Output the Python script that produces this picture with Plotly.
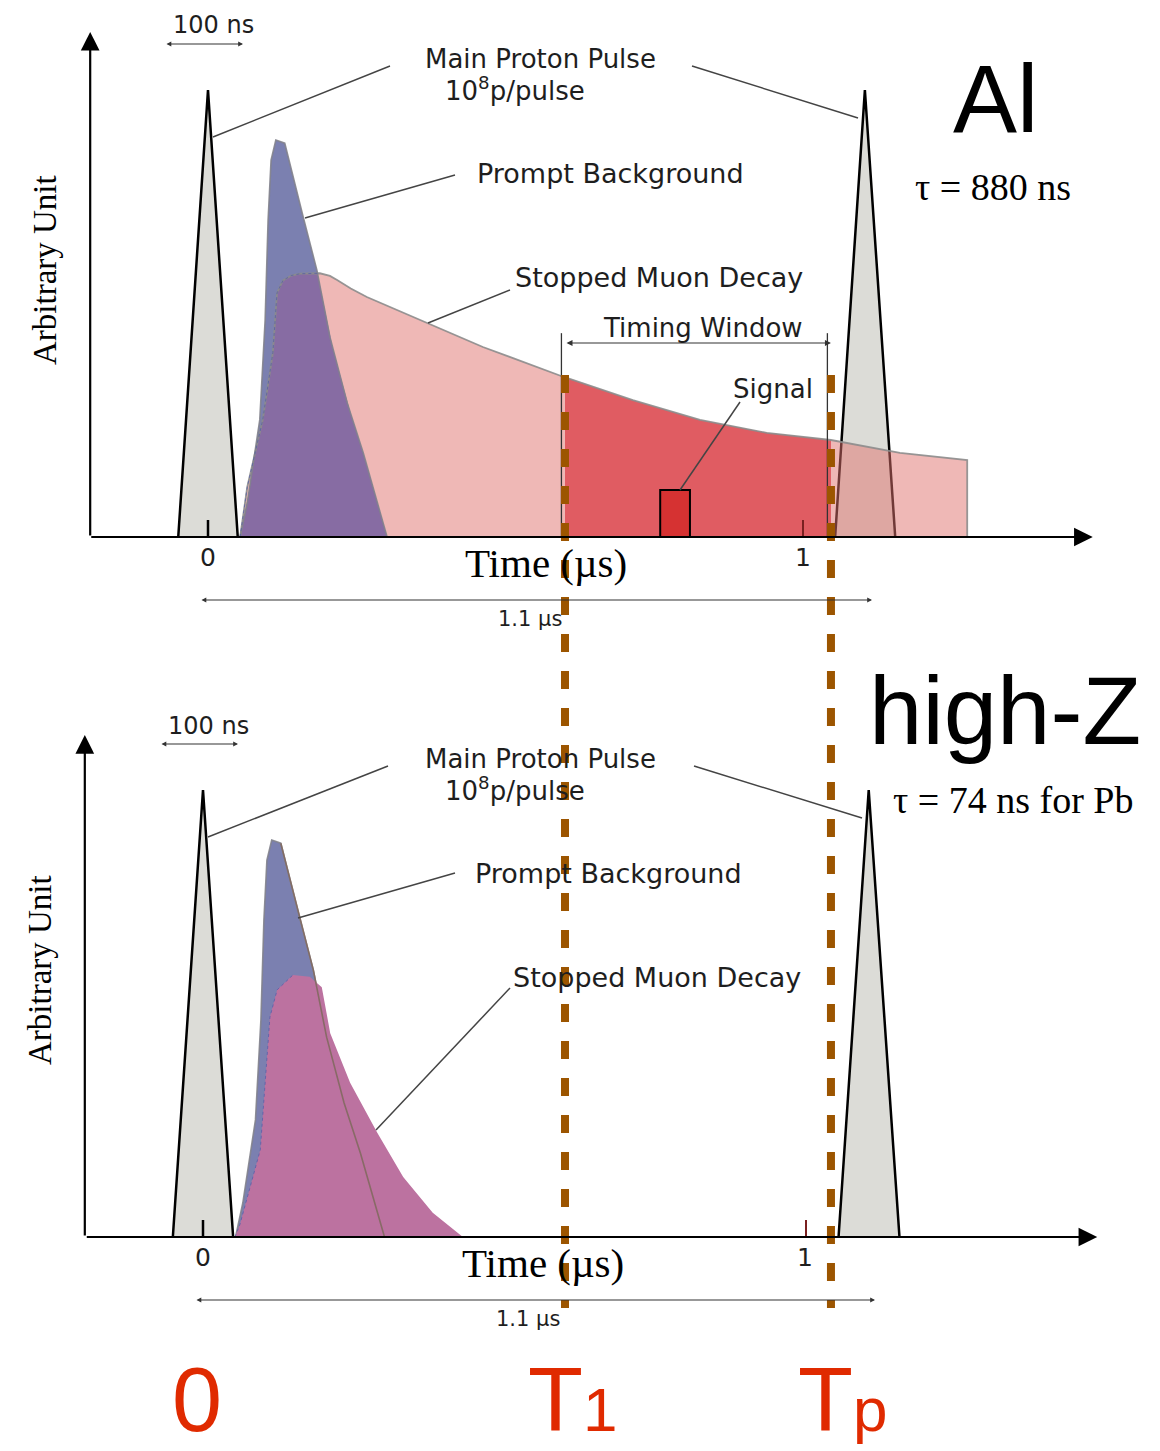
import numpy as np
import plotly.graph_objects as go

# ---------------- data (time in µs, height in arbitrary units) ----------------
pulse_left_t = [-0.050, 0.0, 0.050]
pulse_left_h = [0.0, 1.0, 0.0]
pulse_right_t = [1.054, 1.104, 1.155]
pulse_right_h = [0.0, 1.0, 0.0]

prompt_t = [0.054, 0.066, 0.087, 0.096, 0.101, 0.106, 0.114, 0.129, 0.160, 0.183, 0.205, 0.234, 0.261, 0.301]
prompt_h = [0.0, 0.076, 0.262, 0.485, 0.709, 0.843, 0.888, 0.881, 0.716, 0.597, 0.447, 0.300, 0.188, 0.0]

al_decay_t = [0.054, 0.066, 0.092, 0.109, 0.116, 0.126, 0.140, 0.155, 0.188, 0.205, 0.217, 0.240, 0.267,
              0.368, 0.462, 0.598, 0.714, 0.827, 0.939, 1.047, 1.163, 1.276]
al_decay_h = [0.0, 0.112, 0.262, 0.412, 0.546, 0.574, 0.585, 0.589, 0.590, 0.584, 0.575, 0.556, 0.537,
              0.479, 0.425, 0.358, 0.306, 0.262, 0.233, 0.217, 0.188, 0.172]

pb_decay_t = [0.053, 0.061, 0.095, 0.103, 0.111, 0.123, 0.149, 0.177, 0.197, 0.211, 0.244, 0.289, 0.332, 0.381, 0.431]
pb_decay_h = [0.0, 0.027, 0.195, 0.345, 0.492, 0.553, 0.586, 0.582, 0.559, 0.456, 0.345, 0.233, 0.134, 0.054, 0.0]

T1 = 0.600          # start of timing window (µs)
TP = 1.047          # end of timing window / next pulse (µs)
signal_t = [0.760, 0.810]
signal_h = 0.105
tick_t = [0.0, 1.0]
tick_labels = ["0", "1"]

# ---------------- styling ----------------
W, H = 1160, 1451          # target picture
OFF = 8                    # default page margin of the html body
WF, HF = W - OFF, H - OFF  # figure size
SANS = "DejaVu Sans"
ARIAL = "Liberation Sans, Arial"
SERIF = "Liberation Serif, Times New Roman"
INK = "#1e1e1e"
GRAY_FILL = "#dcdcd7"
PINK = "rgba(223,113,109,0.5)"
RED_WIN = "#e05c62"
BLUE = "#7b80b0"
PURPLE = "#876ca3"
MAGENTA = "#bc72a0"
ORANGE = "#9c5500"
RED_TXT = "#e02a00"


def px(x):
    return (x - OFF) / WF


def py(y):
    return 1 - (y - OFF) / HF


fig = go.Figure()


def poly(t, h, xa, ya, fill, line_color="rgba(0,0,0,0)", lw=0, dash=None):
    fig.add_trace(go.Scatter(
        x=list(t), y=list(h), xaxis=xa, yaxis=ya, mode="lines",
        fill="toself", fillcolor=fill,
        line=dict(color=line_color, width=lw, dash=dash),
        hoverinfo="skip", showlegend=False))


def outline(t, h, xa, ya, color, lw, dash=None):
    fig.add_trace(go.Scatter(
        x=list(t), y=list(h), xaxis=xa, yaxis=ya, mode="lines",
        line=dict(color=color, width=lw, dash=dash), hoverinfo="skip", showlegend=False))


al_t = np.array(al_decay_t)
al_h = np.array(al_decay_h)
pr_t = np.array(prompt_t)
pr_h = np.array(prompt_h)

# ================= TOP PANEL (Al) =================
poly(pulse_right_t, pulse_right_h, "x", "y", GRAY_FILL, "black", 2.5)
al_poly_t = list(al_t) + [al_t[-1]]
al_poly_h = list(al_h) + [0.0]
poly(al_poly_t, al_poly_h, "x", "y", PINK)
mask = (al_t > T1) & (al_t < TP)
win_t = np.concatenate([[T1], al_t[mask], [TP]])
win_h = np.interp(win_t, al_t, al_h)
poly([T1] + list(win_t) + [TP], [0] + list(win_h) + [0], "x", "y", RED_WIN)
poly(prompt_t, prompt_h, "x", "y", BLUE)
grid = np.linspace(pr_t[0], pr_t[-1], 300)
ov = np.minimum(np.interp(grid, pr_t, pr_h), np.interp(grid, al_t, al_h))
poly(grid, ov, "x", "y", PURPLE)
outline(al_poly_t, al_poly_h, "x", "y", "rgba(140,140,140,0.9)", 1.8)
outline(prompt_t, prompt_h, "x", "y", "rgba(130,130,140,0.9)", 1.6)
rise = al_t <= al_t[np.argmax(al_h)]
outline(al_t[rise], al_h[rise], "x", "y", "rgba(80,90,170,0.7)", 1, "dot")
poly(pulse_left_t, pulse_left_h, "x", "y", GRAY_FILL, "black", 2.5)
poly([signal_t[0], signal_t[0], signal_t[1], signal_t[1]], [0, signal_h, signal_h, 0], "x", "y", "#d63232", "black", 2)
outline([tick_t[0], tick_t[0]], [0, 0.038], "x", "y", "black", 2.5)
outline([tick_t[1], tick_t[1]], [0, 0.038], "x", "y", "#7a2020", 2)

# ================= BOTTOM PANEL (high-Z) =================
poly(pulse_right_t, pulse_right_h, "x2", "y2", GRAY_FILL, "black", 2.5)
poly(prompt_t, prompt_h, "x2", "y2", BLUE, "rgba(130,130,140,0.9)", 1.6)
poly(pb_decay_t, pb_decay_h, "x2", "y2", MAGENTA)
outline(prompt_t[7:], prompt_h[7:], "x2", "y2", "rgba(130,105,95,0.9)", 1.6)
pb_t = np.array(pb_decay_t)
pb_h = np.array(pb_decay_h)
rise2 = pb_t <= pb_t[np.argmax(pb_h)]
outline(pb_t[rise2], pb_h[rise2], "x2", "y2", "rgba(80,90,170,0.7)", 1, "dot")
poly(pulse_left_t, pulse_left_h, "x2", "y2", GRAY_FILL, "black", 2.5)
outline([tick_t[0], tick_t[0]], [0, 0.038], "x2", "y2", "black", 2.5)
outline([tick_t[1], tick_t[1]], [0, 0.038], "x2", "y2", "#7a2020", 2)

annotations = []
shapes = []


def label(text, x, y, size, family=SANS, color=INK, xanchor="center", yanchor="middle", angle=0):
    annotations.append(dict(text=text, x=px(x), y=py(y), xref="paper", yref="paper", showarrow=False,
                            font=dict(size=size, family=family, color=color),
                            xanchor=xanchor, yanchor=yanchor, textangle=angle))


def parrow(x0, y0, x1, y1, size=1.0, width=1.2, side="end", head=2, color="#333"):
    annotations.append(dict(text="", x=px(x1), y=py(y1), xref="paper", yref="paper",
                            ax=x0 - x1, ay=y0 - y1, axref="pixel", ayref="pixel",
                            showarrow=True, arrowhead=head, startarrowhead=head,
                            arrowsize=size, startarrowsize=size, arrowwidth=width,
                            arrowside=side, arrowcolor=color, standoff=0, startstandoff=0))


def leader(x0, y0, x1, y1):
    shapes.append(dict(type="line", xref="paper", yref="paper", x0=px(x0), y0=py(y0), x1=px(x1), y1=py(y1),
                       line=dict(color="#444", width=1.5), layer="above"))


# axes arrows (data coordinates)
for xa, ya, x_lo, x_hi, y_hi, ax_len, ay_len in [("x", "y", -0.198, 1.487, 1.130, 1003, 505),
                                                  ("x2", "y2", -0.196, 1.483, 1.123, 1012, 502)]:
    annotations.append(dict(text="", x=x_hi, y=0, xref=xa, yref=ya, ax=-ax_len, ay=0,
                            showarrow=True, arrowhead=2, arrowsize=1.7, arrowwidth=2.2,
                            arrowcolor="black", standoff=0))
    annotations.append(dict(text="", x=x_lo, y=y_hi, xref=xa, yref=ya, ax=0, ay=ay_len,
                            showarrow=True, arrowhead=2, arrowsize=1.7, arrowwidth=2.2,
                            arrowcolor="black", standoff=0))

# timing window arrow and markers
annotations.append(dict(text="", x=TP, y=0.434, xref="x", yref="y", ax=T1, ay=0.434, axref="x", ayref="y",
                        showarrow=True, arrowhead=2, startarrowhead=2, arrowsize=1, startarrowsize=1,
                        arrowwidth=1.2, arrowside="end+start", arrowcolor="#333", standoff=0, startstandoff=0))
for xv in (T1, TP):
    shapes.append(dict(type="line", xref="x", yref="y", x0=xv - 0.006, x1=xv - 0.006, y0=0, y1=0.456,
                       line=dict(color="#333", width=1.3), layer="above"))

# labels top
label("100 ns", 213, 25, 24)
parrow(165, 44, 243, 44, size=0.8, width=1.2, side="end+start")
label("Main Proton Pulse", 540, 59, 26)
label("10<sup>8</sup>p/pulse", 515, 89, 26)
leader(390, 66, 213, 137)
leader(692, 66, 858, 118)
label("Prompt Background", 475, 173, 27, xanchor="left")
leader(455, 175, 305, 218)
label("Stopped Muon Decay", 513, 277, 27, xanchor="left")
leader(510, 290, 428, 323)
label("Timing Window", 703, 328, 26)
label("Signal", 773, 389, 26)
leader(740, 402, 680, 490)
label("Al", 995, 98, 96, family=ARIAL, color="black")
label("τ = 880 ns", 993, 187, 38, family=SERIF, color="black")
label("Arbitrary Unit", 45, 270, 33, family=SERIF, color="black", angle=-90)
label(tick_labels[0], 208, 557, 25)
label(tick_labels[1], 803, 557, 25)
label("Time (µs)", 546, 563, 41, family=SERIF, color="black")
parrow(200, 600, 872, 600, size=0.8, width=1.2, side="end+start")
label("1.1 µs", 530, 619, 21)

# labels bottom
label("100 ns", 208, 726, 24)
parrow(160, 744, 238, 744, size=0.8, width=1.2, side="end+start")
label("Main Proton Pulse", 540, 759, 26)
label("10<sup>8</sup>p/pulse", 515, 789, 26)
leader(388, 766, 208, 837)
leader(694, 766, 862, 818)
label("Prompt Background", 473, 873, 27, xanchor="left")
leader(455, 873, 298, 918)
label("Stopped Muon Decay", 511, 977, 27, xanchor="left")
leader(510, 988, 376, 1130)
label("high-Z", 1005, 710, 96, family=ARIAL, color="black")
label("τ = 74 ns for Pb", 1013, 800, 38, family=SERIF, color="black")
label("Arbitrary Unit", 40, 970, 33, family=SERIF, color="black", angle=-90)
label(tick_labels[0], 203, 1257, 25)
label(tick_labels[1], 805, 1257, 25)
label("Time (µs)", 543, 1263, 41, family=SERIF, color="black")
parrow(195, 1300, 875, 1300, size=0.8, width=1.2, side="end+start")
label("1.1 µs", 528, 1319, 21)

# red time markers
label("0", 197, 1400, 90, family=ARIAL, color=RED_TXT)
label("T<span style='font-size:62px'>1</span>", 572, 1400, 90, family=ARIAL, color=RED_TXT)
label("T<span style='font-size:62px'>p</span>", 842, 1400, 90, family=ARIAL, color=RED_TXT)

# dashed window boundaries spanning both panels
for xv in (T1, TP):
    shapes.append(dict(type="line", xref="x", yref="paper", x0=xv, x1=xv, y0=py(375), y1=py(1308),
                       line=dict(color=ORANGE, width=8, dash="18px,19px"), layer="above"))

fig.update_layout(
    width=WF, height=HF, margin=dict(l=0, r=0, t=0, b=0),
    paper_bgcolor="white", plot_bgcolor="rgba(0,0,0,0)", showlegend=False,
    xaxis=dict(domain=[0, 1], range=[(OFF - 208) / 595, (W - 208) / 595], visible=False, anchor="y", fixedrange=True),
    yaxis=dict(domain=[0, 1], range=[(537 - H) / 447, (537 - OFF) / 447], visible=False, anchor="x", fixedrange=True),
    xaxis2=dict(domain=[0, 1], range=[(OFF - 203) / 603, (W - 203) / 603], visible=False, anchor="y2", fixedrange=True),
    yaxis2=dict(domain=[0, 1], range=[(1237 - H) / 447, (1237 - OFF) / 447], visible=False, anchor="x2", fixedrange=True),
    annotations=annotations, shapes=shapes,
)

fig.write_html("out.html")
